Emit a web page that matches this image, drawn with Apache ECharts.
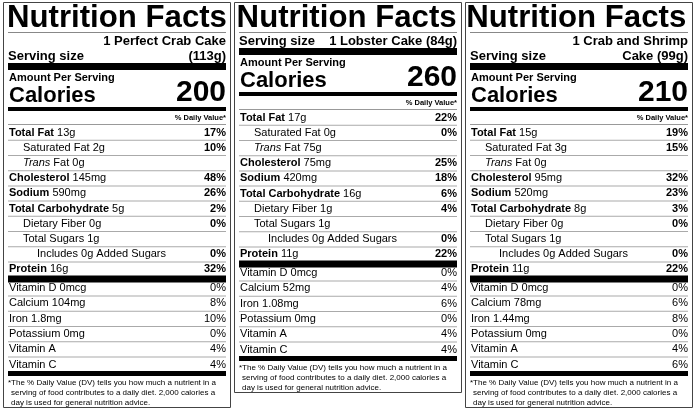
<!DOCTYPE html>
<html><head><meta charset="utf-8">
<script src="https://cdn.jsdelivr.net/npm/echarts@6/dist/echarts.min.js"></script>
<style>html,body{margin:0;padding:0;background:#fff}#c{width:694px;height:410px}</style>
</head><body><div id="c"></div>
<script>
const titles = ["Nutrition Facts","Nutrition Facts","Nutrition Facts"];
const servingDesc = [["1 Perfect Crab Cake","(113g)"],["1 Lobster Cake (84g)"],["1 Crab and Shrimp","Cake (99g)"]];
const calories = [200, 260, 210];
const nutrientNames = ["Total Fat","Saturated Fat","Trans Fat","Cholesterol","Sodium","Total Carbohydrate","Dietary Fiber","Total Sugars","Includes 0g Added Sugars","Protein"];
const nutrientIndent = [0,1,1,0,0,0,1,1,2,0];
const nutrientBold = [1,0,0,1,1,1,0,0,0,1];
const amountsA = ["13g","2g","0g","145mg","590mg","5g","0g","1g","","16g"];
const amountsB = ["17g","0g","75g","75mg","420mg","16g","1g","1g","","11g"];
const amountsC = ["15g","3g","0g","95mg","520mg","8g","0g","1g","","11g"];
const dvA = ["17%","10%","","48%","26%","2%","0%","","0%","32%"];
const dvB = ["22%","0%","","25%","18%","6%","4%","","0%","22%"];
const dvC = ["19%","15%","","32%","23%","3%","0%","","0%","22%"];
const vitNames = ["Vitamin D","Calcium","Iron","Potassium","Vitamin A","Vitamin C"];
const vitAmtA = ["0mcg","104mg","1.8mg","0mg","",""];
const vitAmtB = ["0mcg","52mg","1.08mg","0mg","",""];
const vitAmtC = ["0mcg","78mg","1.44mg","0mg","",""];
const vitDvA = ["0%","8%","10%","0%","4%","4%"];
const vitDvB = ["0%","4%","6%","0%","4%","4%"];
const vitDvC = ["0%","6%","8%","0%","4%","6%"];
const footnote = ["*The % Daily Value (DV) tells you how much a nutrient in a","serving of food contributes to a daily diet. 2,000 calories a","day is used for general nutrition advice."];

const panelX = [3, 234, 465];
const amounts = [amountsA, amountsB, amountsC];
const dvs = [dvA, dvB, dvC];
const vitAmts = [vitAmtA, vitAmtB, vitAmtC];
const vitDvs = [vitDvA, vitDvB, vitDvC];

const F = '"Liberation Sans", Arial, sans-serif';
const cv = document.createElement('canvas').getContext('2d');
function tw(t, font){ cv.font = font; return cv.measureText(t).width; }

const els = [];
function rect(x,y,w,h,fill){ els.push({type:'rect', shape:{x,y,width:w,height:h}, style:{fill}, silent:true}); }
function text(t,x,y,size,weight,align,extra){
  const font = (extra&&extra.italic?'italic ':'') + weight + ' ' + size + 'px ' + F;
  const e = {type:'text', x, y, style:{text:t, font, fill:'#000', align:align||'left', verticalAlign:'middle'}, silent:true};
  if (extra && extra.scaleX) { e.scaleX = extra.scaleX; e.originX = x; e.originY = y; }
  els.push(e);
  return tw(t, font);
}

const W = 228;
for (let p = 0; p < 3; p++) {
  const x0 = panelX[p], L = x0 + 5, R = x0 + W - 5;
  const sd = servingDesc[p];
  const off = sd.length === 2 ? 0 : -15;
  const bottom = 408 + off;
  // border
  els.push({type:'rect', shape:{x:x0+0.5,y:2.5,width:W-1,height:bottom-3}, style:{fill:'none',stroke:'#444',lineWidth:1}, silent:true});
  // title
  const tf = 'bold 31px ' + F;
  const sx = (R - L + 2) / tw(titles[p], tf);
  text(titles[p], L - 1, 18, 31, 'bold', 'left', {scaleX: sx});
  rect(L, 32, R - L, 1, '#888');
  // serving
  if (sd.length === 2) {
    text(sd[0], R, 41, 13, 'bold', 'right');
    text('Serving size', L, 56, 13, 'bold', 'left');
    text(sd[1], R, 56, 13, 'bold', 'right');
  } else {
    text('Serving size', L, 41, 13, 'bold', 'left');
    text(sd[0], R, 41, 13, 'bold', 'right');
  }
  rect(L, 63 + off, R - L, 7, '#000');
  text('Amount Per Serving', L + 1, 78 + off, 11, 'bold', 'left');
  text('Calories', L + 1, 96 + off, 22, 'bold', 'left');
  text(String(calories[p]), R, 93 + off, 30, 'bold', 'right');
  rect(L, 107 + off, R - L, 4, '#000');
  text('% Daily Value*', R, 118 + off, 7.5, 'bold', 'right');
  rect(L, 124 + off, R - L, 1, '#999');
  const pitch = 15.2;
  for (let i = 0; i < nutrientNames.length; i++) {
    const y = 132.5 + off + i * pitch;
    const ind = L + 1 + nutrientIndent[i] * 14;
    const name = nutrientNames[i];
    let w;
    if (name === 'Trans Fat') {
      w = text('Trans', ind, y, 11, 'normal', 'left', {italic:true});
      text(' Fat ' + amounts[p][i], ind + w, y, 11, 'normal', 'left');
    } else {
      w = text(name, ind, y, 11, nutrientBold[i] ? 'bold' : 'normal', 'left');
      if (amounts[p][i]) text(' ' + amounts[p][i], ind + w, y, 11, 'normal', 'left');
    }
    if (dvs[p][i]) text(dvs[p][i], R, y, 11, 'bold', 'right');
    if (i < nutrientNames.length - 1) rect(L, y + 7.3, R - L, 1, '#aaa');
  }
  rect(L, 275.5 + off, R - L, 7, '#000');
  for (let i = 0; i < vitNames.length; i++) {
    const y = 288 + off + i * 15.3;
    text(vitNames[i] + (vitAmts[p][i] ? ' ' + vitAmts[p][i] : ''), L + 1, y, 11, 'normal', 'left');
    text(vitDvs[p][i], R, y, 11, 'normal', 'right');
    if (i < vitNames.length - 1) rect(L, y + 7.4, R - L, 1, '#aaa');
  }
  rect(L, 371 + off, R - L, 5, '#000');
  footnote.forEach((t, i) => text(t, L + (i ? 3 : 0), 383 + off + i * 10, 8, 'normal', 'left'));
}

const chart = echarts.init(document.getElementById('c'), null, {renderer:'canvas'});
chart.setOption({animation:false, graphic:{elements: els}});
</script></body></html>
